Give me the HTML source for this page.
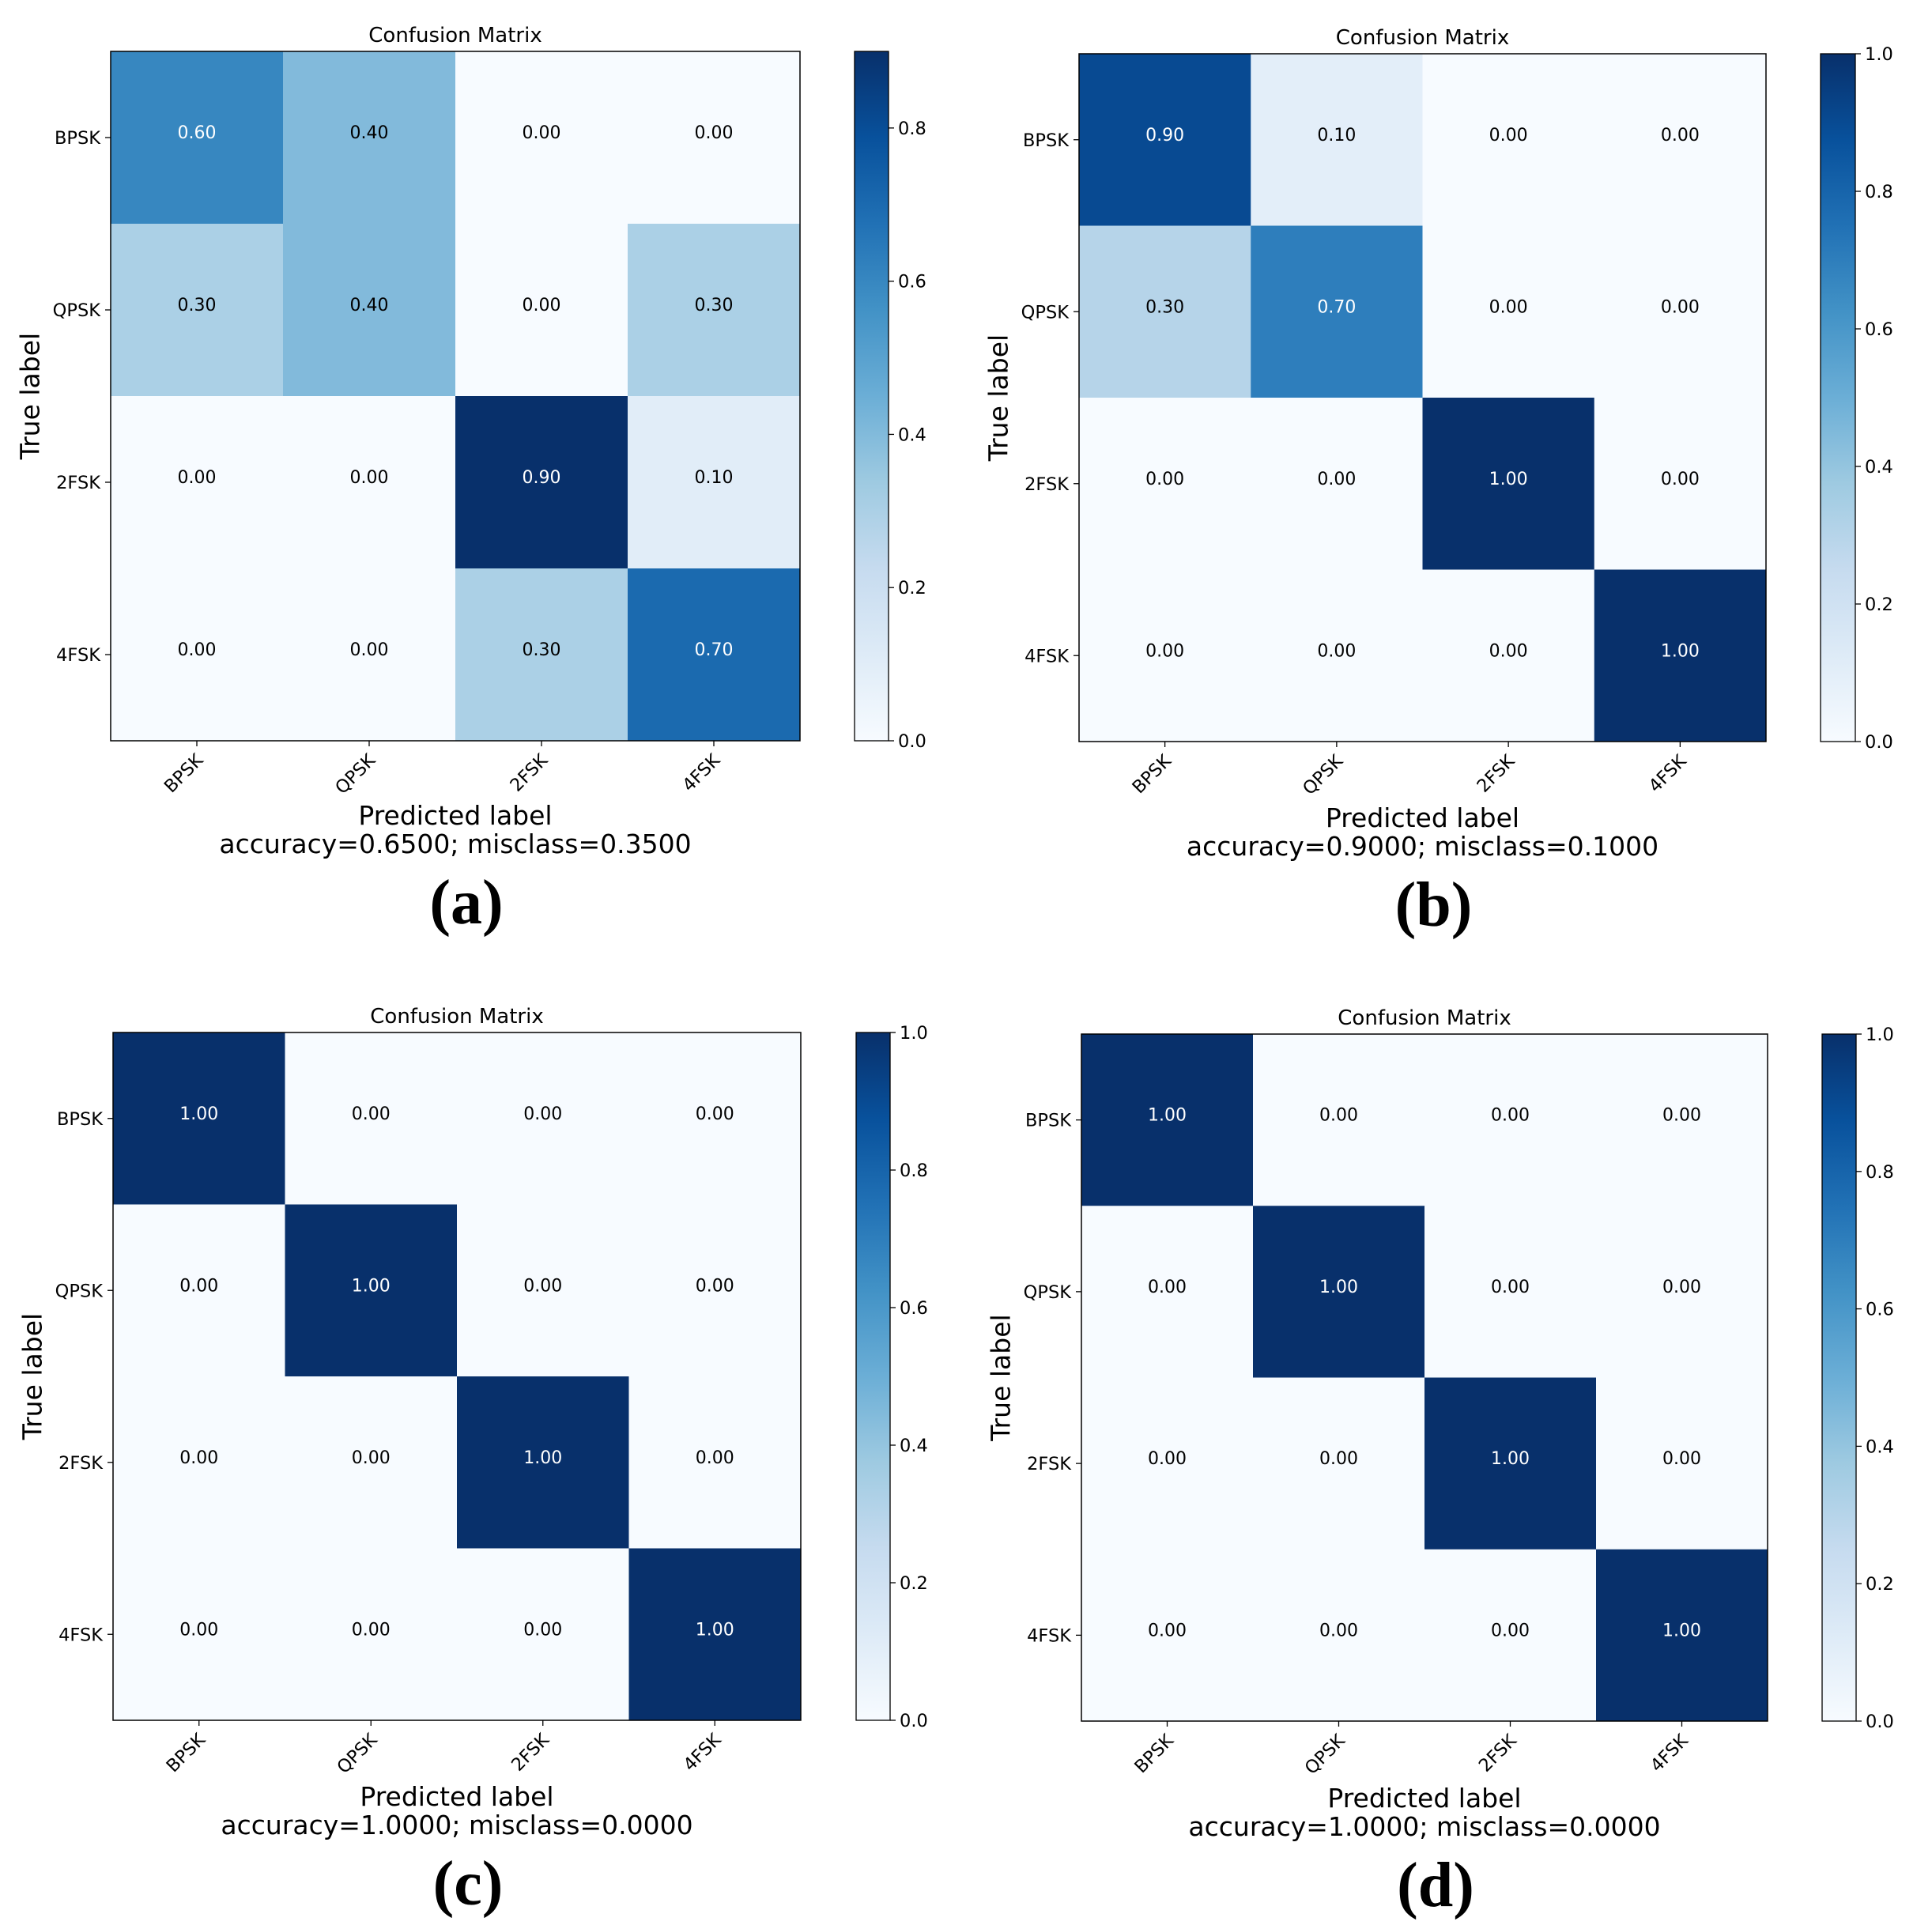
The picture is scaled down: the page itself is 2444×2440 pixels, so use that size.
<!DOCTYPE html>
<html><head><meta charset="utf-8"><style>
html,body{margin:0;padding:0;background:#fff;}
svg{display:block;font-family:"DejaVu Sans","Liberation Sans",sans-serif;}
</style></head><body>
<svg id="fig" width="2444" height="2440" viewBox="0 0 2444 2440" xmlns="http://www.w3.org/2000/svg">
<defs>
<linearGradient id="blues" x1="0" y1="1" x2="0" y2="0">
<stop offset="0" stop-color="#f7fbff"/><stop offset="0.125" stop-color="#deebf7"/><stop offset="0.25" stop-color="#c6dbef"/><stop offset="0.375" stop-color="#9ecae1"/><stop offset="0.5" stop-color="#6baed6"/><stop offset="0.625" stop-color="#4292c6"/><stop offset="0.75" stop-color="#2171b5"/><stop offset="0.875" stop-color="#08519c"/><stop offset="1" stop-color="#08306b"/>
</linearGradient>
</defs>
</svg>
<script>
const classes = ["BPSK","QPSK","2FSK","4FSK"];
const matrixA = [[0.6,0.4,0,0],[0.3,0.4,0,0.3],[0,0,0.9,0.1],[0,0,0.3,0.7]];
const matrixB = [[0.9,0.1,0,0],[0.3,0.7,0,0],[0,0,1,0],[0,0,0,1]];
const matrixC = [[1,0,0,0],[0,1,0,0],[0,0,1,0],[0,0,0,1]];
const matrixD = [[1,0,0,0],[0,1,0,0],[0,0,1,0],[0,0,0,1]];
const accuracyLabels = ["accuracy=0.6500; misclass=0.3500","accuracy=0.9000; misclass=0.1000","accuracy=1.0000; misclass=0.0000","accuracy=1.0000; misclass=0.0000"];
const panelLetters = ["(a)","(b)","(c)","(d)"];
const colorbarTicks = [0,0.2,0.4,0.6,0.8,1.0];

const NS="http://www.w3.org/2000/svg";
const svg=document.getElementById('fig');
const stops=[[0,[247,251,255]],[0.125,[222,235,247]],[0.25,[198,219,239]],[0.375,[158,202,225]],[0.5,[107,174,214]],[0.625,[66,146,198]],[0.75,[33,113,181]],[0.875,[8,81,156]],[1,[8,48,107]]];
function blues(t){t=Math.max(0,Math.min(1,t));for(let i=0;i<stops.length-1;i++){const [a,ca]=stops[i],[b,cb]=stops[i+1];if(t<=b){const f=(t-a)/(b-a);return 'rgb('+ca.map((c,k)=>Math.round(c+(cb[k]-c)*f)).join(',')+')';}}return 'rgb(8,48,107)';}
function el(tag,attrs,parent,text){const e=document.createElementNS(NS,tag);for(const k in attrs)e.setAttribute(k,attrs[k]);if(text!==undefined)e.textContent=text;(parent||svg).appendChild(e);return e;}

const panels=[
 {L:140,T:65,R:1012,B:937,cbL:1081,cbR:1124,m:matrixA},
 {L:1365,T:68,R:2234,B:938,cbL:2303,cbR:2347,m:matrixB},
 {L:143,T:1306,R:1013,B:2176,cbL:1083,cbR:1126,m:matrixC},
 {L:1368,T:1308,R:2236,B:2177,cbL:2305,cbR:2348,m:matrixD}];

panels.forEach((p,pi)=>{
 const g=el('g',{});
 
 
 const m=p.m;
 const vmax=Math.max(...m.flat());
 const n=classes.length;
 const cw=(p.R-p.L)/n, ch=(p.B-p.T)/n;
 const xs=j=>p.L+j*cw, ys=i=>p.T+i*ch;
 for(let i=0;i<n;i++)for(let j=0;j<n;j++){
  const v=m[i][j];
  const r=el('rect',{x:xs(j),y:ys(i),width:cw+0.5,height:ch+0.5,fill:blues(v/vmax)},g);
  
  
  const t=el('text',{x:xs(j)+cw/2,y:ys(i)+ch/2+1,'text-anchor':'middle','font-size':22,fill:v>vmax/2?'#fff':'#000'},g,v.toFixed(2));
  
  
 }
 const fr=el('rect',{x:p.L,y:p.T,width:p.R-p.L,height:p.B-p.T,fill:'none',stroke:'#000','stroke-width':1.5},g);
 
 
 const tt=el('text',{x:(p.L+p.R)/2,y:p.T-12,'text-anchor':'middle','font-size':26},g,'Confusion Matrix');
 
 
 classes.forEach((c,i)=>{
  const cy=ys(i)+ch/2;
  el('line',{x1:p.L-7,x2:p.L,y1:cy,y2:cy,stroke:'#000','stroke-width':1.3},g);
  const yl=el('text',{x:p.L-13,y:cy+8,'text-anchor':'end','font-size':22.5},g,c);
  
  
  const cx=xs(i)+cw/2;
  el('line',{x1:cx,x2:cx,y1:p.B,y2:p.B+7,stroke:'#000','stroke-width':1.3},g);
  const xl=el('text',{x:cx+9,y:p.B+26,'text-anchor':'end','font-size':22.5,transform:'rotate(-45 '+(cx+9)+' '+(p.B+26)+')'},g,c);
  
  
 });
 const yt=el('text',{x:p.L-100,y:(p.T+p.B)/2,'text-anchor':'middle','font-size':33,transform:'rotate(-90 '+(p.L-100)+' '+((p.T+p.B)/2)+')','dominant-baseline':'middle'},g,'True label');
 
 
 const xt=el('text',{x:(p.L+p.R)/2,y:p.T+978,'text-anchor':'middle','font-size':33},g,'Predicted label');
 
 
 const ac=el('text',{x:(p.L+p.R)/2,y:p.T+1014,'text-anchor':'middle','font-size':33},g,accuracyLabels[pi]);
 
 
 const pl=el('text',{x:(p.L+p.R)/2+14,y:p.T+1103,'text-anchor':'middle','font-size':80,'font-weight':'bold','font-family':'"Liberation Serif",serif'},g,panelLetters[pi]);
 
 
 const cb=el('rect',{x:p.cbL,y:p.T,width:p.cbR-p.cbL,height:p.B-p.T,fill:'url(#blues)',stroke:'#000','stroke-width':1.3},g);
 
 
 const cbY=v=>p.B-(v/vmax)*(p.B-p.T);
 colorbarTicks.filter(v=>v<=vmax+1e-9).forEach(v=>{
  const y=cbY(v);
  el('line',{x1:p.cbR,x2:p.cbR+7,y1:y,y2:y,stroke:'#000','stroke-width':1.3},g);
  const ct=el('text',{x:p.cbR+12,y:y+8,'font-size':22.5},g,v.toFixed(1));
  
  
 });
});
</script>
</body></html>
